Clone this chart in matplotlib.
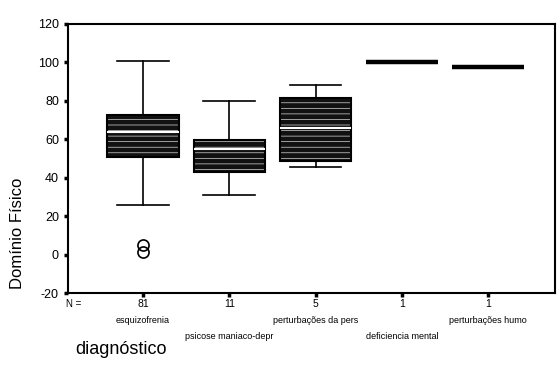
import matplotlib
matplotlib.use("Agg")
import matplotlib.pyplot as plt
from matplotlib.patches import PathPatch

plt.rcParams['font.family'] = ['Liberation Sans', 'DejaVu Sans']
plt.rcParams['hatch.linewidth'] = 0.5

categories = ["esquizofrenia", "psicose maniaco-depr", "perturbações da pers",
              "deficiencia mental", "perturbações humo"]
counts = [81, 11, 5, 1, 1]
q1 = [50.8, 43.0, 48.7, 100.0, 97.5]
med = [63.8, 55.0, 66.0, 100.0, 97.5]
q3 = [72.7, 59.6, 81.5, 100.0, 97.5]
whislo = [26.0, 31.0, 45.5, 100.0, 97.5]
whishi = [100.5, 80.0, 88.5, 100.0, 97.5]
outliers = [[5.0, 1.5], [], [], [], []]
yticks = [-20, 0, 20, 40, 60, 80, 100, 120]

W, H = 559, 386
fig = plt.figure(figsize=(W / 100, H / 100), dpi=100)
ax = fig.add_axes([68 / W, 1 - 293 / H, (555 - 68) / W, (293 - 24) / H])

stats = []
for i in range(len(categories)):
    stats.append(dict(label=categories[i], q1=q1[i], med=med[i], q3=q3[i],
                      whislo=whislo[i], whishi=whishi[i], fliers=outliers[i]))

positions = list(range(1, len(categories) + 1))
bp = ax.bxp(stats, positions=positions, widths=0.83, capwidths=0.6,
            patch_artist=True, showfliers=True,
            boxprops=dict(facecolor='#111111', edgecolor='black', linewidth=1.2),
            whiskerprops=dict(color='black', linewidth=1.2),
            capprops=dict(color='black', linewidth=1.2),
            medianprops=dict(color='white', linewidth=1.5),
            flierprops=dict(marker='o', markerfacecolor='none',
                            markeredgecolor='black', markersize=8,
                            markeredgewidth=1.2))

# speckled scan texture on boxes
for i, box in enumerate(bp['boxes']):
    if q3[i] > q1[i]:
        p = PathPatch(box.get_path(), transform=box.get_transform(),
                      facecolor='none', edgecolor='#d8d8d8', hatch='---',
                      linewidth=0, zorder=box.get_zorder() + 0.1)
        ax.add_patch(p)
        ax.add_patch(PathPatch(box.get_path(), transform=box.get_transform(),
                               facecolor='none', edgecolor='black',
                               linewidth=1.5, zorder=box.get_zorder() + 0.2))
for i, m in enumerate(bp['medians']):
    if q3[i] == q1[i]:
        m.set_color('black')
        m.set_linewidth(3.2)
        m.set_zorder(5)
    else:
        m.set_zorder(4)

ax.set_xlim(0.13, 5.775)
ax.set_ylim(-20, 120)
ax.set_yticks(yticks)
ax.set_yticklabels([str(t) for t in yticks], fontsize=9)
ax.set_xticks(positions)
ax.set_xticklabels([])
ax.tick_params(axis='both', direction='out', length=3, width=2.5, color='black')
for s in ax.spines.values():
    s.set_linewidth(1.5)
    s.set_color('black')

xt = ax.get_xaxis_transform()
ax.text(0.20, -0.042, "N =", transform=xt, ha='center', va='center', fontsize=7)
for i, pos in enumerate(positions):
    ax.text(pos, -0.042, str(counts[i]), transform=xt, ha='center',
            va='center', fontsize=7.5)
    yrow = -0.102 if i % 2 == 0 else -0.160
    ax.text(pos, yrow, categories[i], transform=xt, ha='center', va='center',
            fontsize=6.5)

fig.text(18 / W, 1 - 233 / H, "Domínio Físico", rotation=90, ha='center',
         va='center', fontsize=12)
fig.text(75 / W, 1 - 350 / H, "diagnóstico", ha='left', va='center',
         fontsize=13)

fig.savefig("out.png", dpi=100)
